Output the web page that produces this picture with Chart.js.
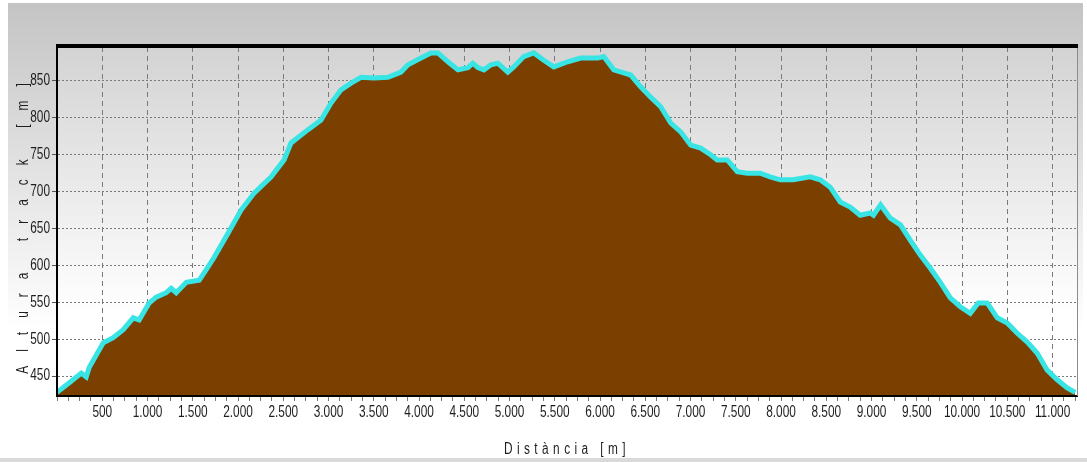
<!DOCTYPE html>
<html>
<head>
<meta charset="utf-8">
<script src="https://cdn.jsdelivr.net/npm/chart.js@4.4.1/dist/chart.umd.min.js"></script>
<style>
  html, body { margin: 0; padding: 0; background: #fff; }
  canvas { display: block; }
</style>
</head>
<body>
<canvas id="c" width="1087" height="462"></canvas>
<script>
// ---- data ----
const distance = [0,136,268,323,357,511,621,732,842,908,1018,1096,1207,1262,1317,1428,1571,1626,1737,1891,
  2034,2178,2366,2509,2586,2774,2917,3028,3138,3249,3359,3503,3657,3801,3878,4021,4132,4209,4320,4430,
  4540,4595,4651,4717,4794,4871,4981,5047,5157,5268,5378,5489,5643,5787,5975,6041,6152,6262,6339,6449,
  6560,6670,6781,6891,7002,7112,7222,7295,7406,7516,7626,7770,7880,7991,8134,8322,8433,8543,8654,8764,
  8874,8985,9021,9100,9208,9319,9429,9539,9650,9760,9870,9981,10091,10179,10279,10389,10500,10610,10721,10831,
  10941,11052,11162,11250];
const elevation = [428,441,454,449,462,495,502,513,529,526,549,557,563,569,563,577,580,590,611,644,
  675,698,720,743,766,784,797,820,838,847,855,854,855,862,872,881,888,888,876,865,
  868,874,868,865,872,874,862,869,883,888,878,869,876,881,881,883,865,861,858,842,
  828,815,793,781,763,759,750,743,743,727,725,725,720,716,716,720,716,706,686,679,
  668,671,668,682,664,655,634,614,596,577,556,544,535,549,549,529,522,508,496,481,
  458,445,434,428];

const xTickValues = [500,1000,1500,2000,2500,3000,3500,4000,4500,5000,5500,6000,6500,7000,7500,8000,8500,9000,9500,10000,10500,11000];
const xTickLabels = ['500','1.000','1.500','2.000','2.500','3.000','3.500','4.000','4.500','5.000','5.500','6.000','6.500','7.000','7.500','8.000','8.500','9.000','9.500','10.000','10.500','11.000'];
const yTickValues = [450,500,550,600,650,700,750,800,850];
const yTickLabels = ['450','500','550','600','650','700','750','800','850'];
const xMinorStep = 125;
const xMin = 0, xMax = 11270, yMin = 423, yMax = 896;
const xTitle = 'Distància [m]';
const yTitle = 'Altura track [m]';

const FONT = "'Liberation Sans', Arial, sans-serif";
const NARROW = 0.74; // horizontal squeeze to mimic a narrow face

// draw text horizontally condensed (around its own anchor) while fn runs
function condensed(fn, sx, spacing) {
  return function () {
    const c = this.ctx;
    const orig = CanvasRenderingContext2D.prototype.fillText;
    c.fillText = function (t, x, y, mw) {
      this.save();
      if (spacing) this.letterSpacing = spacing;
      this.translate(x, y);
      this.scale(sx, 1);
      orig.call(this, t, 0, 0);
      this.restore();
    };
    try { fn.apply(this, arguments); } finally { delete c.fillText; }
  };
}

const bgPlugin = {
  id: 'bg',
  beforeDraw(chart) {
    const ctx = chart.ctx, W = chart.width, H = chart.height;
    ctx.save();
    ctx.fillStyle = '#ffffff';
    ctx.fillRect(0, 0, W, H);
    let g = ctx.createLinearGradient(0, 3, 0, 330);
    g.addColorStop(0, '#c4c4c4');
    g.addColorStop(1, '#ffffff');
    ctx.fillStyle = g;
    ctx.fillRect(8, 3, W - 12, H - 7);
    const a = chart.chartArea;
    g = ctx.createLinearGradient(0, a.top, 0, a.top + 265);
    g.addColorStop(0, '#d3d3d3');
    g.addColorStop(1, '#ffffff');
    ctx.fillStyle = g;
    ctx.fillRect(a.left, a.top, a.right - a.left, a.bottom - a.top);
    ctx.fillStyle = '#d9d9d9';
    ctx.fillRect(0, H - 4, W, 4);
    ctx.restore();
  },
  afterLayout(chart) {
    const spacing = { x: '6px', y: '19px' };
    for (const id of ['x', 'y']) {
      const s = chart.scales[id];
      if (s && !s._wrapped) {
        s.drawTitle = condensed(s.drawTitle, NARROW, spacing[id]);
        s.drawLabels = condensed(s.drawLabels, NARROW, null);
        s._wrapped = true;
      }
    }
  },
  afterDraw(chart) {
    const ctx = chart.ctx, a = chart.chartArea;
    ctx.save();
    ctx.strokeStyle = '#8c8c8c';
    ctx.lineWidth = 1;
    ctx.beginPath();
    ctx.moveTo(a.right + 0.5, a.top);
    ctx.lineTo(a.right + 0.5, a.bottom);
    ctx.stroke();
    ctx.strokeStyle = '#000';
    ctx.lineWidth = 4;
    ctx.beginPath();
    ctx.moveTo(a.left - 1, a.top - 1);
    ctx.lineTo(a.right + 1, a.top - 1);
    ctx.stroke();
    ctx.restore();
  }
};

new Chart(document.getElementById('c'), {
  type: 'line',
  data: {
    datasets: [{
      data: distance.map((d, i) => ({ x: d, y: elevation[i] })),
      borderColor: '#38e4e4',
      borderWidth: 5,
      backgroundColor: '#7b4000',
      fill: 'start',
      pointRadius: 0,
      tension: 0,
      borderJoinStyle: 'miter'
    }]
  },
  options: {
    responsive: false,
    animation: false,
    devicePixelRatio: 1,
    layout: { padding: { top: 47, right: 10, left: 0, bottom: 0 } },
    plugins: { legend: { display: false }, tooltip: { enabled: false } },
    scales: {
      x: {
        type: 'linear',
        min: xMin, max: xMax,
        afterFit(s) { s.height = 66; },
        afterBuildTicks(s) {
          const t = [];
          for (let v = xMin; v <= xMax; v += xMinorStep) t.push({ value: v });
          s.ticks = t;
        },
        ticks: {
          autoSkip: false, maxRotation: 0, padding: 2,
          color: '#1e1e1e',
          font: { family: FONT, size: 16 },
          callback(v) { const i = xTickValues.indexOf(v); return i >= 0 ? xTickLabels[i] : ''; }
        },
        grid: {
          color(c) { return (c.tick && xTickValues.includes(c.tick.value)) ? '#7a7a7a' : 'rgba(0,0,0,0)'; },
          tickColor: '#777',
          tickLength: 5,
          lineWidth: 1
        },
        border: { display: true, color: '#000', width: 2, dash: [5, 4], z: 1 },
        title: {
          display: true, text: xTitle, color: '#1e1e1e',
          font: { family: FONT, size: 16 },
          padding: { top: 0, bottom: 3 }
        }
      },
      y: {
        type: 'linear',
        min: yMin, max: yMax,
        afterFit(s) { s.width = 57; },
        afterBuildTicks(s) { s.ticks = yTickValues.map(v => ({ value: v })); },
        ticks: {
          padding: 2, color: '#1e1e1e',
          font: { family: FONT, size: 16 },
          callback(v) { const i = yTickValues.indexOf(v); return i >= 0 ? yTickLabels[i] : ''; }
        },
        grid: { color: '#7a7a7a', tickColor: '#555', tickLength: 5, lineWidth: 1 },
        border: { display: true, color: '#000', width: 2, dash: [2, 2], z: 1 },
        title: {
          display: true, text: yTitle, color: '#1e1e1e',
          font: { family: FONT, size: 16 },
          padding: { top: 14, bottom: 0 }
        }
      }
    }
  },
  plugins: [bgPlugin]
});
</script>
</body>
</html>
